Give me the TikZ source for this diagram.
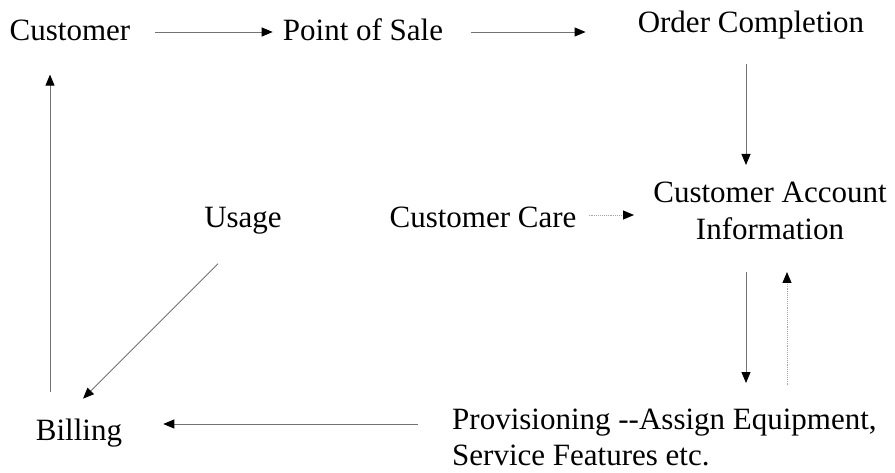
\documentclass[tikz,border=0pt]{standalone}
\usepackage{fontspec}
\setmainfont{Liberation Serif}
\usetikzlibrary{arrows.meta}

\tikzset{
  lbl/.style={inner sep=0pt, font=\fontsize{31}{36}\selectfont},
  flow/.style={draw=black!55, line width=0.9pt,
    -{Triangle[length=11pt,width=9pt,color=black]}},
  dotflow/.style={flow, draw=black!35, densely dotted}
}

\begin{document}
\begin{tikzpicture}[x=1pt,y=-1pt]
  \useasboundingbox (0,0) rectangle (895,473);
  % labels
  \node[lbl] (cust)  at (70,30)  {Customer};
  \node[lbl] (pos)   at (363,30) {Point of Sale};
  \node[lbl] (oc)    at (751,25) {Order Completion};
  \node[lbl, align=center, font=\fontsize{31}{37}\selectfont] (cai) at (770,211)
    {Customer Account\\Information};
  \node[lbl] (care)  at (483,217) {Customer Care};
  \node[lbl] (usage) at (243,221) {Usage};
  \node[lbl] (bill)  at (79,433)  {Billing};
  \node[lbl, align=left, anchor=west] (prov) at (452,437)
    {Provisioning -{}-Assign Equipment,\\Service Features etc.};
  % flows
  \draw[flow, shorten <=25pt, shorten >=10pt] ([yshift=-2pt]cust.east) -- ([yshift=-2pt]pos.west);
  \draw[flow, shorten <=28pt, shorten >=52pt] ([yshift=-2pt]pos.east) -- ([yshift=-2pt]pos.east -| oc.west);
  \draw[flow] ([xshift=-5pt,yshift=-25pt]oc.south) -- ([xshift=-5pt]oc.south |- 0,165);
  \draw[dotflow] ([xshift=12pt,yshift=2pt]care.east) -- ([yshift=2pt]care.east -| 634,0);
  \draw[flow] (cai.south -| 746,0) ++(0,32) coordinate (cdown) -- (cdown |- 0,383);
  \draw[dotflow] (prov.north -| 787,0) ++(0,-23) coordinate (pup) -- (pup |- 0,272);
  \draw[flow, shorten >=41pt] ([xshift=-34pt,yshift=13pt]prov.west) -- ([yshift=13pt]prov.west -| bill.east);
  \draw[flow] ([xshift=-25pt,yshift=-29pt]usage.south) -- ([xshift=4pt,yshift=20pt]bill.north);
  \draw[flow, shorten >=34pt] (bill.north -| 50,0) ++(0,-27) coordinate (bup) -- (bup |- cust.south);
\end{tikzpicture}
\end{document}
